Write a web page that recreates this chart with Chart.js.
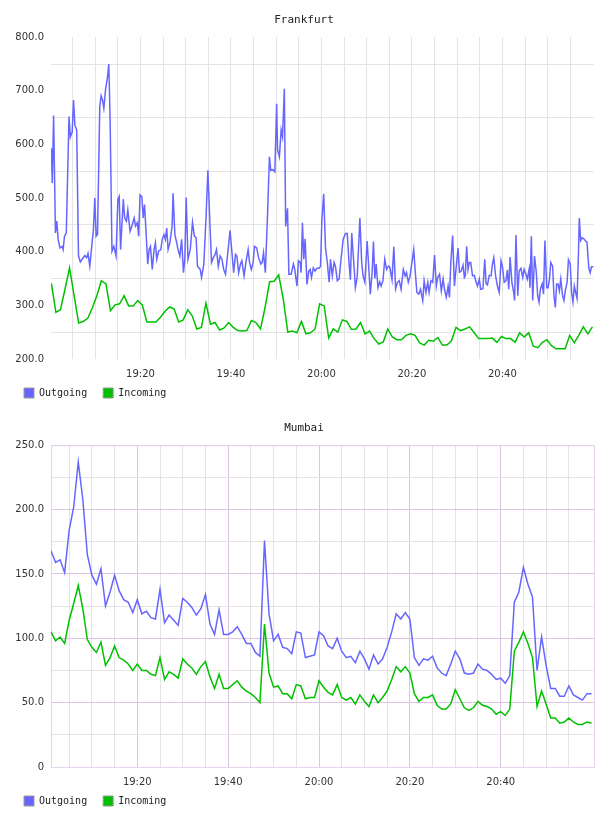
<!DOCTYPE html>
<html>
<head>
<meta charset="utf-8">
<script src="https://cdn.jsdelivr.net/npm/chart.js@4.4.1/dist/chart.umd.min.js"></script>
<style>
    html, body { margin: 0; padding: 0; background: #fff; overflow: hidden; }
    .box { position: absolute; left: 0; width: 608px; height: 408px; }
</style>
</head>
<body>
<div class="box" style="top:0"><canvas id="fra" width="608" height="408"></canvas></div>
<div class="box" style="top:408px"><canvas id="mum" width="608" height="408"></canvas></div>
<script>
// minutes after 19:00
const fraOutTimes = [
    0.3, 0.5, 0.8, 1.2, 1.5, 1.8, 2.2, 2.7, 2.9, 3.2, 3.6, 4.2, 4.5, 4.9, 5.2, 5.5, 5.9, 6.3, 6.7, 7.1,
    7.7, 8.1, 8.4, 8.8, 9.3, 9.6, 9.9, 10.2, 10.5, 11.0, 11.3, 11.6, 11.9, 12.3, 12.7, 13.0, 13.3, 13.7, 14.1, 14.6,
    15.0, 15.3, 15.6, 16.2, 16.5, 16.9, 17.2, 17.7, 18.1, 18.6, 18.9, 19.3, 19.6, 19.9, 20.3, 20.6, 20.9, 21.2, 21.6, 21.9,
    22.2, 22.6, 23.0, 23.3, 23.6, 24.0, 24.5, 24.8, 25.2, 25.5, 25.8, 26.1, 26.5, 27.0, 27.2, 27.6, 28.0, 28.3, 28.7, 29.1,
    29.5, 29.8, 30.1,
    30.5, 31.0, 31.5, 31.9, 32.3, 32.6, 33.2, 33.5, 34.0, 34.5, 34.9, 35.4, 35.7, 36.1, 36.5, 36.8, 37.2, 37.6, 38.0, 38.4,
    38.8, 39.3, 39.8, 40.1, 40.6, 41.0, 41.3, 41.7, 42.1, 42.4, 42.9, 43.3, 43.8, 44.1, 44.5, 44.9, 45.2, 45.7, 46.1, 46.6,
    46.9, 47.2, 47.6, 48.1, 48.5, 48.8, 49.3, 49.7, 50.1, 50.3, 50.7, 51.1, 51.4, 51.8, 52.1, 52.5, 52.8, 53.3, 53.8, 54.1,
    54.6, 54.9, 55.3, 55.5, 55.8, 56.1, 56.4, 56.8, 57.2, 57.5, 57.8, 58.2, 58.6, 59.0, 59.5, 59.8, 60.1, 60.5, 60.9,
    61.3, 61.7, 62.0, 62.4, 62.8, 63.1, 63.5, 63.9, 64.4, 64.8, 65.3, 65.7, 66.1, 66.4, 66.7, 67.2, 67.5, 67.9, 68.5, 68.9,
    69.2, 69.6, 70.1, 70.4, 70.8, 71.2, 71.5, 71.8, 72.1, 72.5, 72.9, 73.2, 73.6, 74.0, 74.4, 74.8, 75.1, 75.6, 76.0, 76.4,
    76.8, 77.2, 77.6, 78.1, 78.5, 78.8, 79.2, 79.6, 80.0, 80.4, 80.7, 81.1, 81.5, 81.9, 82.4, 82.7, 83.1, 83.5, 83.8, 84.2,
    84.6, 85.0, 85.4, 85.7, 86.1, 86.5, 86.9, 87.2, 87.6, 88.0, 88.3, 88.6, 89.0, 89.4, 89.8, 90.2, 90.5, 90.9, 91.3,
    91.6, 91.8, 92.1, 92.4, 92.7, 93.0, 93.4, 93.8, 94.1, 94.5, 94.9, 95.2, 95.7, 96.1, 96.4, 96.7, 97.1, 97.5, 97.8, 98.1,
    98.5, 98.9, 99.3, 99.7, 100.0, 100.4, 100.8, 101.1, 101.4, 101.7, 102.1, 102.5, 102.7, 103.0, 103.4, 103.7, 104.1, 104.5, 104.8, 105.2,
    105.5, 105.9, 106.1, 106.4, 106.7, 107.1, 107.5, 107.8, 108.1, 108.4, 108.8, 109.1, 109.4, 109.8, 110.1, 110.4, 110.7, 111.1, 111.4, 111.7,
    112.0, 112.3, 112.6, 112.9, 113.3, 113.6, 113.9, 114.3, 114.6, 115.0, 115.3, 115.6, 115.9, 116.2, 116.5, 116.8, 117.0, 117.3, 117.6, 118.0,
    118.4, 118.7, 119.1, 119.4, 119.7, 120.1
];
const fraOutValues = [
    593, 528, 654, 435, 457, 423, 407, 410, 404, 429, 435, 652, 614, 623, 683, 636, 627, 392, 381, 386,
    393, 389, 397, 373, 417, 441, 500, 429, 432, 670, 691, 683, 667, 704, 725, 750, 639, 401, 410, 392,
    497, 503, 404, 498, 463, 457, 478, 438, 448, 463, 448, 454, 429, 506, 503, 463, 488, 441, 377, 404,
    410, 367, 404, 417, 386, 401, 404, 423, 432, 423, 444, 404, 417, 448, 509, 432, 417, 404, 392, 423,
    361, 386, 501,
    386, 404, 455, 429, 426, 373, 367, 352, 377, 466, 552, 441, 380, 389, 395, 404, 373, 392, 386, 367,
    358, 398, 440, 410, 361, 395, 392, 361, 377, 383, 355, 380, 404, 380, 367, 380, 410, 407, 389, 377,
    380, 398, 361, 472, 577, 552, 553, 549, 676, 590, 577, 627, 614, 704, 447, 481, 358, 358, 377, 367,
    336, 383, 380, 361, 454, 386, 424, 339, 364, 367, 352, 370, 364, 369, 369, 373, 460, 508, 407,
    380, 343, 386, 355, 380, 373, 346, 349, 392, 423, 434, 434, 380, 348, 435, 373, 333, 352, 463, 380,
    355, 343, 420, 380, 321, 361, 419, 350, 377, 333, 344, 336, 346, 386, 367, 373, 372, 348, 409, 331,
    343, 346, 330, 367, 355, 361, 343, 355, 380, 404, 367, 324, 321, 330, 309, 346, 324, 343, 324, 346,
    343, 394, 336, 352, 358, 327, 349, 330, 315, 336, 315, 380, 430, 336, 373, 407, 362, 364, 375,
    352, 355, 410, 367, 380, 380, 355, 356, 346, 336, 349, 330, 331, 386, 340, 338, 356, 355, 377, 389,
    355, 336, 324, 383, 373, 343, 346, 366, 330, 390, 343, 324, 309, 431, 318, 364, 369, 352, 367, 358,
    349, 367, 333, 429, 309, 392, 361, 318, 306, 330, 340, 321, 421, 333, 333, 349, 380, 373, 318, 296,
    340, 340, 327, 349, 318, 309, 327, 343, 385, 377, 324, 306, 336, 324, 313, 392, 463, 421, 426, 424,
    420, 418, 370, 361, 372, 372
];
// incoming is sampled about once a minute
const fraInStart = 0.3;
const fraInStep = 1.005;
const fraInValues = [
    341, 287, 292, 330, 370, 318, 267, 270, 276, 295, 318, 346, 340, 290, 301, 303, 318, 299, 299, 309,
    301, 269, 269, 269, 278, 289, 297, 293, 269, 273, 292, 280, 256, 259, 304, 265, 268, 254, 258, 268,
    259, 253, 252, 253, 272, 268, 256, 296, 344, 345, 357, 312, 250, 252, 249, 270, 247, 249, 256, 303,
    299, 239, 256, 250, 273, 270, 255, 256, 268, 247, 252, 238, 228, 232, 256, 241, 236, 236, 244, 247,
    244, 230, 226, 235, 233, 240, 226, 226, 234, 259, 253, 256, 260, 249, 238, 238, 238, 239, 231, 242,
    238, 238, 231, 249, 241, 249, 224, 221, 231, 236, 225, 219, 219, 219, 244, 230, 244, 260, 247, 260
];

// Mumbai, one value per minute from 19:01
const mumStart = 1;
const mumOutValues = [
    168, 159, 161, 151, 184, 202, 237, 208, 165, 149, 142, 154, 125, 136, 149, 137, 130, 128, 120, 130,
    119, 121, 116, 115, 138, 112, 118, 114, 110, 131, 128, 124, 118, 123, 134, 111, 103, 122, 103, 103,
    105, 109, 103, 96, 96, 89, 86, 176, 119, 98, 103, 93, 92, 88, 105, 104, 85, 86, 87, 105,
    102, 94, 92, 100, 90, 85, 86, 81, 90, 84, 76, 87, 80, 84, 93, 105, 119, 115, 120, 115,
    85, 79, 84, 83, 86, 77, 73, 71, 80, 90, 84, 73, 72, 73, 80, 76, 75, 72, 68, 69,
    65, 71, 128, 136, 155, 142, 132, 75, 101, 79, 61, 61, 55, 55, 63, 56, 54, 52, 57, 57
];
const mumInValues = [
    105, 98, 101, 96, 114, 127, 141, 123, 99, 93, 89, 97, 79, 85, 94, 85, 83, 80, 75, 80,
    75, 75, 72, 71, 85, 68, 74, 72, 69, 84, 80, 77, 72, 78, 82, 70, 61, 72, 61, 61,
    64, 67, 62, 59, 57, 54, 50, 111, 73, 62, 63, 57, 57, 53, 64, 63, 53, 54, 54, 67,
    62, 58, 56, 64, 54, 52, 54, 49, 56, 51, 47, 56, 50, 54, 59, 68, 78, 74, 78, 73,
    57, 51, 54, 54, 56, 48, 45, 45, 49, 60, 53, 46, 44, 46, 51, 48, 47, 45, 41, 43,
    40, 45, 90, 97, 105, 96, 85, 47, 59, 49, 38, 38, 34, 35, 38, 35, 33, 33, 35, 34
];

const seriesNames = ['Outgoing', 'Incoming'];
const outColor = '#6666ff';
const inColor = '#00c000';
const gray = '#e4e4e4';
const purple = '#dcc4e2';

Chart.defaults.font.family = 'DejaVu Sans';
Chart.defaults.font.size = 10;
Chart.defaults.color = '#333';

function toPoints(times, values) {
    return values.map((v, i) => ({ x: times[i], y: v }));
}

function evenTimes(start, step, values) {
    return values.map((v, i) => start + i * step);
}

function timeLabel(m) {
    let h = 19 + Math.floor(m / 60);
    let mm = m % 60;
    return h + ':' + (mm < 10 ? '0' + mm : mm);
}

const framePlugin = {
    id: 'frame',
    // the x axis box is kept short so the legend sits close; let its labels spill below it
    afterLayout(chart) {
        chart.scales.x.bottom += 12;
    },
    beforeDatasetsDraw(chart, args, opts) {
        if (!opts.color) return;
        const a = chart.chartArea;
        const ctx = chart.ctx;
        ctx.save();
        ctx.strokeStyle = opts.color;
        ctx.lineWidth = 1;
        ctx.strokeRect(a.left + 0.5, a.top + 0.5, a.right - a.left, a.bottom - a.top);
        ctx.restore();
    }
};

function makeChart(id, title, outPts, inPts, cfg) {
    return new Chart(document.getElementById(id), {
        type: 'line',
        data: {
            datasets: [{
                label: seriesNames[0],
                data: outPts,
                borderColor: outColor,
                backgroundColor: outColor,
                borderWidth: 1.5,
                pointRadius: 0,
                tension: 0,
                order: 2
            }, {
                label: seriesNames[1],
                data: inPts,
                borderColor: inColor,
                backgroundColor: inColor,
                borderWidth: 1.5,
                pointRadius: 0,
                tension: 0,
                order: 1
            }]
        },
        options: {
            responsive: false,
            animation: false,
            layout: { padding: { left: 8, right: 8, top: 0, bottom: 0 } },
            plugins: {
                title: {
                    display: true,
                    text: title,
                    color: '#222',
                    font: { family: 'DejaVu Sans Mono', size: 11, weight: 'normal' },
                    padding: { top: 14, bottom: 10 }
                },
                legend: {
                    position: 'bottom',
                    align: 'start',
                    labels: {
                        boxWidth: 10,
                        boxHeight: 10,
                        padding: 16,
                        color: '#222',
                        font: { family: 'DejaVu Sans Mono', size: 10 },
                        sort: (a, b) => a.datasetIndex - b.datasetIndex,
                        generateLabels: chart => Chart.defaults.plugins.legend.labels.generateLabels(chart)
                            .map(l => Object.assign(l, { strokeStyle: '#999', lineWidth: 1 }))
                    }
                },
                tooltip: { enabled: false },
                frame: { color: cfg.frame }
            },
            scales: {
                x: {
                    type: 'linear',
                    min: cfg.xMin,
                    max: cfg.xMax,
                    border: { display: false },
                    grid: {
                        drawTicks: false,
                        color: ctx => {
                            let v = ctx.tick.value;
                            if (v >= 120 || v % 5 !== 0) return 'rgba(0,0,0,0)';
                            return v % 20 === 0 ? cfg.xMajor : gray;
                        }
                    },
                    ticks: {
                        stepSize: 5,
                        includeBounds: false,
                        autoSkip: false,
                        maxRotation: 0,
                        padding: 9,
                        callback: v => (v % 20 === 0 && v < 120) ? timeLabel(v) : ''
                    },
                    afterFit: s => { s.height = 13; }
                },
                y: {
                    min: cfg.yMin,
                    max: cfg.yMax,
                    border: { display: false },
                    grid: {
                        drawTicks: false,
                        color: ctx => ctx.tick.value % cfg.yLabelStep === 0 ? cfg.yMajor : gray
                    },
                    ticks: {
                        stepSize: cfg.yStep,
                        padding: 7,
                        callback: v => v % cfg.yLabelStep === 0 ? (v === 0 ? '0' : v.toFixed(1)) : ''
                    },
                    afterFit: s => { s.width = 43; }
                },
                yRight: {
                    position: 'right',
                    grid: { display: false },
                    border: { display: false },
                    ticks: { display: false },
                    afterFit: s => { s.width = 6; }
                }
            }
        },
        plugins: [framePlugin]
    });
}

makeChart('fra', 'Frankfurt',
    toPoints(fraOutTimes, fraOutValues),
    toPoints(evenTimes(fraInStart, fraInStep, fraInValues), fraInValues),
    { xMin: 0.22, xMax: 120.25, yMin: 200, yMax: 800, yStep: 50, yLabelStep: 100,
      xMajor: gray, yMajor: 'rgba(0,0,0,0)', frame: null });

makeChart('mum', 'Mumbai',
    toPoints(evenTimes(mumStart, 1, mumOutValues), mumOutValues),
    toPoints(evenTimes(mumStart, 1, mumInValues), mumInValues),
    { xMin: 1.0, xMax: 120.54, yMin: 0, yMax: 250, yStep: 25, yLabelStep: 50,
      xMajor: purple, yMajor: purple, frame: '#e6d4ea' });
</script>
</body>
</html>
